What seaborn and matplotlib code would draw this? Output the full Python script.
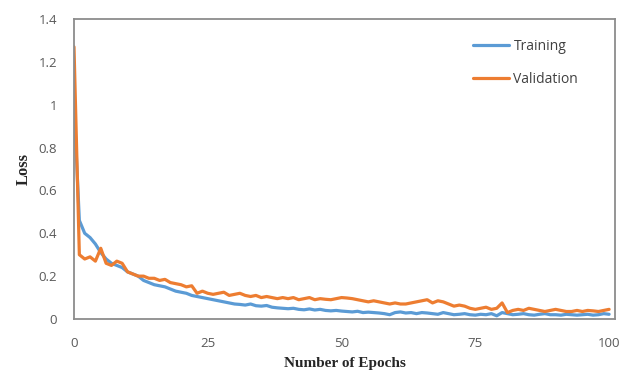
import matplotlib
matplotlib.use("Agg")
import matplotlib.pyplot as plt
import numpy as np
import pandas as pd
import seaborn as sns

# Loss per epoch for the two runs
epochs = list(range(0, 101))

training_loss = [
    1.00, 0.46, 0.40, 0.38, 0.35, 0.31, 0.28, 0.26, 0.25, 0.24,
    0.22, 0.21, 0.20, 0.18, 0.17, 0.16, 0.155, 0.15, 0.14, 0.13,
    0.125, 0.12, 0.11, 0.105, 0.10, 0.095, 0.09, 0.085, 0.08, 0.075,
    0.07, 0.068, 0.065, 0.07, 0.062, 0.06, 0.063, 0.055, 0.052, 0.05,
    0.048, 0.05, 0.045, 0.043, 0.047, 0.042, 0.045, 0.04, 0.038, 0.04,
    0.037, 0.035, 0.033, 0.036, 0.03, 0.032, 0.03, 0.028, 0.025, 0.02,
    0.03, 0.033, 0.028, 0.03, 0.025, 0.03, 0.028, 0.025, 0.022, 0.03,
    0.025, 0.02, 0.022, 0.025, 0.02, 0.018, 0.022, 0.02, 0.025, 0.015,
    0.03, 0.025, 0.02, 0.022, 0.025, 0.02, 0.018, 0.022, 0.025, 0.02,
    0.02, 0.018, 0.022, 0.02, 0.018, 0.02, 0.022, 0.018, 0.02, 0.025, 0.022,
]

validation_loss = [
    1.27, 0.30, 0.28, 0.29, 0.27, 0.33, 0.26, 0.25, 0.27, 0.26,
    0.22, 0.21, 0.20, 0.20, 0.19, 0.19, 0.18, 0.185, 0.17, 0.165,
    0.16, 0.15, 0.155, 0.12, 0.13, 0.12, 0.115, 0.12, 0.125, 0.11,
    0.115, 0.12, 0.11, 0.105, 0.11, 0.10, 0.105, 0.10, 0.095, 0.10,
    0.095, 0.10, 0.09, 0.095, 0.10, 0.09, 0.095, 0.092, 0.09, 0.095,
    0.10, 0.098, 0.095, 0.09, 0.085, 0.08, 0.085, 0.08, 0.075, 0.07,
    0.075, 0.07, 0.07, 0.075, 0.08, 0.085, 0.09, 0.075, 0.085, 0.08,
    0.07, 0.06, 0.065, 0.06, 0.05, 0.045, 0.05, 0.055, 0.045, 0.05,
    0.075, 0.03, 0.04, 0.045, 0.04, 0.05, 0.045, 0.04, 0.035, 0.04,
    0.045, 0.04, 0.035, 0.035, 0.04, 0.035, 0.04, 0.038, 0.035, 0.04, 0.045,
]

series_names = ["Training", "Validation"]
series_colors = ["#5B9BD5", "#ED7D31"]

x_ticks = [0, 25, 50, 75, 100]
y_ticks = [0, 0.2, 0.4, 0.6, 0.8, 1.0, 1.2, 1.4]
y_tick_labels = ["0", "0.2", "0.4", "0.6", "0.8", "1", "1.2", "1.4"]

df = pd.DataFrame({
    "epoch": epochs * 2,
    "loss": training_loss + validation_loss,
    "series": [series_names[0]] * len(epochs) + [series_names[1]] * len(epochs),
})

sns.set_style("white")
plt.rcParams["font.family"] = ["Open Sans", "DejaVu Sans"]

fig = plt.figure(figsize=(6.28, 3.75), dpi=100)
ax = fig.add_axes([74 / 628, 56 / 375, 541 / 628, 300 / 375])

sns.lineplot(
    data=df, x="epoch", y="loss", hue="series",
    palette=dict(zip(series_names, series_colors)),
    linewidth=2.3, ax=ax, legend=True,
)

ax.set_xlim(0, 101.1)
ax.set_ylim(0, 1.4)
ax.set_xticks(x_ticks)
ax.set_xticklabels([str(t) for t in x_ticks])
ax.set_yticks(y_ticks)
ax.set_yticklabels(y_tick_labels)
ax.tick_params(axis="both", length=0, labelsize=9.5, colors="#595959")
ax.tick_params(axis="x", pad=13)
ax.tick_params(axis="y", pad=12)

for spine in ax.spines.values():
    spine.set_visible(True)
    spine.set_color("#8C8C8C")
    spine.set_linewidth(1.3)

ax.set_xlabel("Number of Epochs", family="Liberation Serif", fontweight="bold",
              fontsize=11, color="#262626", labelpad=5)
ax.set_ylabel("Loss", family="Liberation Serif", fontweight="bold",
              fontsize=12, color="#262626", labelpad=5)

leg = ax.legend(
    loc="upper right", bbox_to_anchor=(0.955, 0.975), frameon=False,
    fontsize=10, handlelength=2.6, handletextpad=0.3, labelspacing=1.3,
)
for text in leg.get_texts():
    text.set_color("#404040")

fig.savefig("out.png", dpi=100)
